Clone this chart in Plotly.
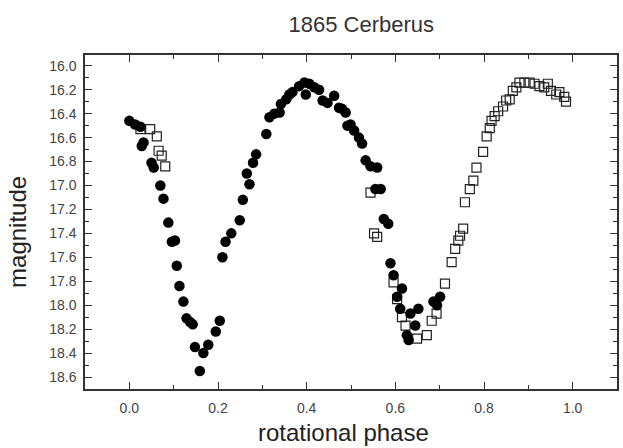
import plotly.graph_objects as go

# Filled circles (one dataset)
circ_phase = [0.000, 0.013, 0.025, 0.032, 0.028, 0.050, 0.055, 0.070, 0.077, 0.088,
              0.096, 0.103, 0.107, 0.113, 0.122, 0.129, 0.137, 0.143, 0.148, 0.159,
              0.167, 0.178, 0.195, 0.204, 0.210, 0.217, 0.230, 0.249, 0.256, 0.265,
              0.271, 0.279, 0.286, 0.309, 0.316, 0.327, 0.339, 0.342, 0.354, 0.361,
              0.368, 0.383, 0.395, 0.406, 0.417, 0.398, 0.428, 0.436, 0.447, 0.462,
              0.473, 0.480, 0.488, 0.492, 0.499, 0.507, 0.518, 0.525, 0.533, 0.544,
              0.559, 0.555, 0.567, 0.574, 0.584, 0.589, 0.596, 0.615, 0.604, 0.611,
              0.634, 0.652, 0.645, 0.626, 0.630, 0.686, 0.701, 0.694]
circ_mag = [16.46, 16.49, 16.51, 16.64, 16.67, 16.81, 16.85, 17.00, 17.11, 17.31,
            17.47, 17.46, 17.67, 17.84, 17.97, 18.11, 18.14, 18.16, 18.35, 18.55,
            18.40, 18.33, 18.22, 18.13, 17.60, 17.47, 17.40, 17.29, 17.12, 16.90,
            16.99, 16.81, 16.74, 16.57, 16.43, 16.40, 16.39, 16.32, 16.28, 16.24,
            16.22, 16.17, 16.14, 16.15, 16.18, 16.24, 16.20, 16.29, 16.31, 16.25,
            16.35, 16.36, 16.39, 16.50, 16.49, 16.54, 16.60, 16.65, 16.79, 16.84,
            16.85, 17.03, 17.03, 17.28, 17.32, 17.65, 17.75, 17.86, 17.93, 18.03,
            18.07, 18.03, 18.17, 18.25, 18.29, 17.97, 17.93, 18.00]

# Open squares (second dataset)
sq_phase = [0.025, 0.047, 0.062, 0.066, 0.073, 0.081, 0.544, 0.552, 0.559, 0.596,
            0.604, 0.615, 0.623, 0.649, 0.671, 0.682, 0.693, 0.712, 0.727, 0.735,
            0.742, 0.746, 0.753, 0.757, 0.768, 0.776, 0.783, 0.798, 0.806, 0.813,
            0.817, 0.824, 0.832, 0.843, 0.850, 0.858, 0.865, 0.873, 0.880, 0.891,
            0.903, 0.914, 0.925, 0.936, 0.944, 0.951, 0.963, 0.970, 0.981, 0.985]
sq_mag = [16.53, 16.53, 16.59, 16.71, 16.75, 16.84, 17.06, 17.40, 17.43, 17.81,
          17.95, 18.10, 18.17, 18.28, 18.25, 18.13, 18.07, 17.82, 17.64, 17.53,
          17.46, 17.42, 17.36, 17.14, 17.03, 16.96, 16.85, 16.72, 16.59, 16.52,
          16.46, 16.42, 16.38, 16.34, 16.29, 16.28, 16.21, 16.18, 16.14, 16.14,
          16.14, 16.15, 16.17, 16.18, 16.15, 16.21, 16.24, 16.22, 16.26, 16.30]

x_ticks = [0.0, 0.2, 0.4, 0.6, 0.8, 1.0]
x_ticklabels = ["0.0", "0.2", "0.4", "0.6", "0.8", "1.0"]
y_ticks = [16.0 + 0.2 * i for i in range(14)]
y_ticklabels = ["%.1f" % v for v in y_ticks]

FONT = "Liberation Sans, Arial, sans-serif"

fig = go.Figure()
fig.add_trace(go.Scatter(
    x=sq_phase, y=sq_mag, mode="markers",
    marker=dict(symbol="square-open", size=9, color="#222",
                line=dict(width=1.2, color="#222")),
    showlegend=False))
fig.add_trace(go.Scatter(
    x=circ_phase, y=circ_mag, mode="markers",
    marker=dict(symbol="circle", size=10.5, color="black"),
    showlegend=False))

axis_common = dict(
    showline=True, linecolor="#333", linewidth=1.5, mirror="ticks",
    ticks="inside", tickcolor="#333", ticklen=7, tickwidth=1.2,
    showgrid=False, zeroline=False,
    tickfont=dict(family=FONT, size=14, color="#444"),
)

fig.update_xaxes(
    range=[-0.1, 1.1], tickvals=x_ticks, ticktext=x_ticklabels,
    minor=dict(ticks="inside", ticklen=4, tickcolor="#333", dtick=0.1, tick0=0.1),
    ticklabelstandoff=5,
    **axis_common)
fig.update_yaxes(
    range=[18.7, 15.91], tickvals=y_ticks, ticktext=y_ticklabels,
    minor=dict(ticks="inside", ticklen=4, tickcolor="#333", dtick=0.1, tick0=16.1),
    ticklabelstandoff=4,
    **axis_common)

fig.update_layout(
    width=623, height=448,
    margin=dict(l=85, r=4, t=55, b=59),
    paper_bgcolor="white", plot_bgcolor="white",
    title=dict(text="1865 Cerberus", x=0.58, xanchor="center", y=0.946, yanchor="middle",
               font=dict(family=FONT, size=22, color="#333")),
    annotations=[
        dict(text="magnitude", xref="paper", yref="paper", x=-0.128, y=0.47,
             textangle=-90, showarrow=False, xanchor="center", yanchor="middle",
             font=dict(family=FONT, size=24, color="#222")),
        dict(text="rotational phase", xref="paper", yref="paper", x=0.485, y=-0.13,
             showarrow=False, xanchor="center", yanchor="middle",
             font=dict(family=FONT, size=24, color="#222")),
    ],
)

fig.write_html("out.html")
